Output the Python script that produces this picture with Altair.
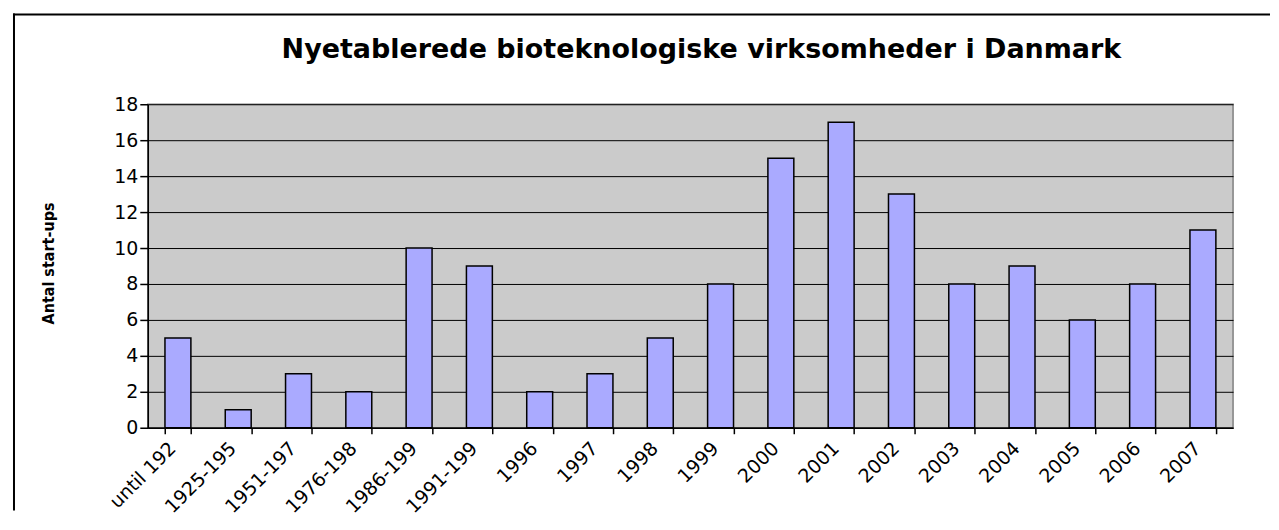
import altair as alt
import pandas as pd

# ---- data ----
categories = ["until 192", "1925-195", "1951-197", "1976-198", "1986-199", "1991-199",
              "1996", "1997", "1998", "1999", "2000", "2001", "2002", "2003",
              "2004", "2005", "2006", "2007"]
startups = [5, 1, 3, 2, 10, 9, 2, 3, 5, 8, 15, 17, 13, 8, 9, 6, 8, 11]
y_ticks = [0, 2, 4, 6, 8, 10, 12, 14, 16, 18]
title_text = "Nyetablerede bioteknologiske virksomheder i Danmark"

df = pd.DataFrame({"periode": categories, "antal": startups})
one = pd.DataFrame({"k": [0]})

W, H = 1087, 324

bars = alt.Chart(df).mark_bar(
    fill="#AAAAFF", stroke="black", strokeWidth=1.5
).encode(
    x=alt.X("periode:N", sort=categories,
            scale=alt.Scale(paddingInner=0.57, paddingOuter=0.285),
            axis=alt.Axis(title=None, labelAngle=-45, tickBand="extent", grid=False,
                          domainColor="black", domainWidth=1.5, tickColor="black",
                          tickWidth=1.5, tickSize=6, labelPadding=5, labelOffset=-12,
                          labelFont="DejaVu Sans", labelFontSize=19,
                          labelColor="black")),
    y=alt.Y("antal:Q", scale=alt.Scale(domain=[0, 18], nice=False),
            axis=alt.Axis(values=y_ticks, title="Antal start-ups", grid=True,
                          gridColor="black", gridWidth=1, domainColor="black",
                          domainWidth=1.5, tickColor="black", tickWidth=1.5,
                          tickSize=8, labelPadding=2, labelFont="DejaVu Sans",
                          labelFontSize=19, labelColor="black",
                          titleFont="DejaVu Sans Condensed, Liberation Sans, sans-serif",
                          titleFontSize=16, titleFontWeight="bold", titleColor="black",
                          titleX=-99, titleY=H / 2 - 3, titleAngle=-90,
                          titleAlign="center", titleBaseline="middle"))
)

frame_left = alt.Chart(one).mark_rule(color="black", strokeWidth=2).encode(
    x=alt.value(-134), y=alt.value(-91), y2=alt.value(407)
)
frame_top = alt.Chart(one).mark_rule(color="black", strokeWidth=2).encode(
    x=alt.value(-135), x2=alt.value(1124), y=alt.value(-90)
)
title = alt.Chart(one).mark_text(
    font="DejaVu Sans", fontSize=27, fontWeight="bold", color="black",
    align="center", baseline="alphabetic"
).encode(x=alt.value(W / 2 + 11), y=alt.value(-46), text=alt.value(title_text))

chart = alt.layer(bars, frame_left, frame_top, title).properties(
    width=W, height=H, background="white",
    padding={"left": 4, "top": 4, "right": 0, "bottom": 0},
).configure_view(
    fill="#CBCBCB", stroke="#808080", strokeWidth=1.5
)

chart.save("out.html", embed_options={"renderer": "svg", "actions": False})
